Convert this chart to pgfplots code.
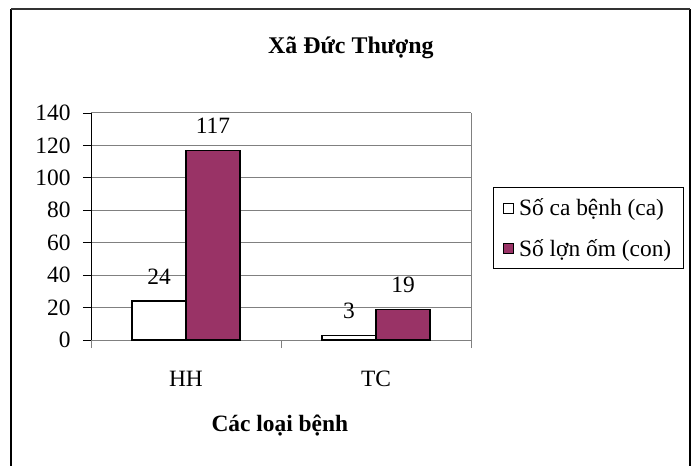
\documentclass[border=0pt]{standalone}
\usepackage{fontspec}
\setmainfont{Liberation Serif}
\usepackage{pgfplots}
\pgfplotsset{compat=1.18}

\definecolor{plum}{HTML}{993366}
\definecolor{gridgray}{HTML}{808080}

\newcommand{\txt}{\fontsize{23.5}{27}\selectfont}

\begin{document}
\begin{tikzpicture}
  \path[use as bounding box] (0,0) rectangle (697bp,466bp);
  % chart frame (bottom edge lies outside the picture)
  \draw[black, line width=1.5bp] (11bp,-3bp) -- (11bp,457bp);
  \draw[black, line width=1.5bp] (690bp,-3bp) -- (690bp,457bp);
  \draw[black!80, line width=1.5bp] (11bp,457bp) -- (690bp,457bp);

  \begin{axis}[
      at={(91bp,126bp)}, anchor=south west,
      scale only axis, width=380bp, height=227bp,
      ybar=0pt, bar width=54bp,
      xmin=-0.5, xmax=1.5, ymin=0, ymax=140,
      enlarge x limits=false,
      axis x line*=bottom, axis y line*=left,
      x axis line style={gridgray, line width=1bp},
      y axis line style={black, line width=0.8bp},
      ytick={0,20,...,140},
      ymajorgrids, major grid style={gridgray, line width=1bp},
      tick align=outside, major tick length=8bp,
      ytick style={black, line width=0.8bp},
      xtick={-0.5,0.5,1.5}, xticklabels={},
      xtick style={gridgray, line width=1bp},
      extra x ticks={0,1}, extra x tick labels={HH,TC},
      extra x tick style={major tick length=0pt, grid=none},
      tick label style={font=\txt},
      /pgf/number format/assume math mode=true,
      yticklabel style={anchor=east, xshift=-9bp},
      xticklabel style={anchor=base, yshift=-46.5bp},
      xlabel={\textbf{Các loại bệnh}},
      xlabel style={font=\txt, at={(axis description cs:0.497,0)}, anchor=base, yshift=-91.7bp},
      nodes near coords,
      every node near coord/.append style={font=\txt, anchor=base, inner sep=0pt, yshift=17bp, black},
      legend style={
        at={(axis description cs:1.057,0.672)}, anchor=north west,
        draw=black, line width=0.8bp,
        inner xsep=10bp, inner ysep=9bp, row sep=18bp,
        font=\txt,
        /tikz/every odd column/.append style={column sep=3bp}
      },
      legend cell align=left,
      clip=false
    ]
    \addplot[draw=black, fill=white, line width=1.2bp,
      legend image code/.code={\draw[draw=black, fill=white, line width=1bp] (0bp,-5bp) rectangle (10bp,5bp);}]
      coordinates {(0,24) (1,3)};
    \addplot[draw=black, fill=plum, line width=1.2bp,
      legend image code/.code={\draw[draw=black, fill=plum, line width=1bp] (0bp,-5bp) rectangle (10bp,5bp);}]
      coordinates {(0,117) (1,19)};
    \draw[gridgray, line width=1bp] (rel axis cs:1,0) -- (rel axis cs:1,1);
    \node[font=\fontsize{24}{28}\selectfont\bfseries, anchor=base]
      at (axis description cs:0.684,1.264) {Xã Đức Thượng};
    \legend{Số ca bệnh (ca), Số lợn ốm (con)}
  \end{axis}
\end{tikzpicture}
\end{document}
